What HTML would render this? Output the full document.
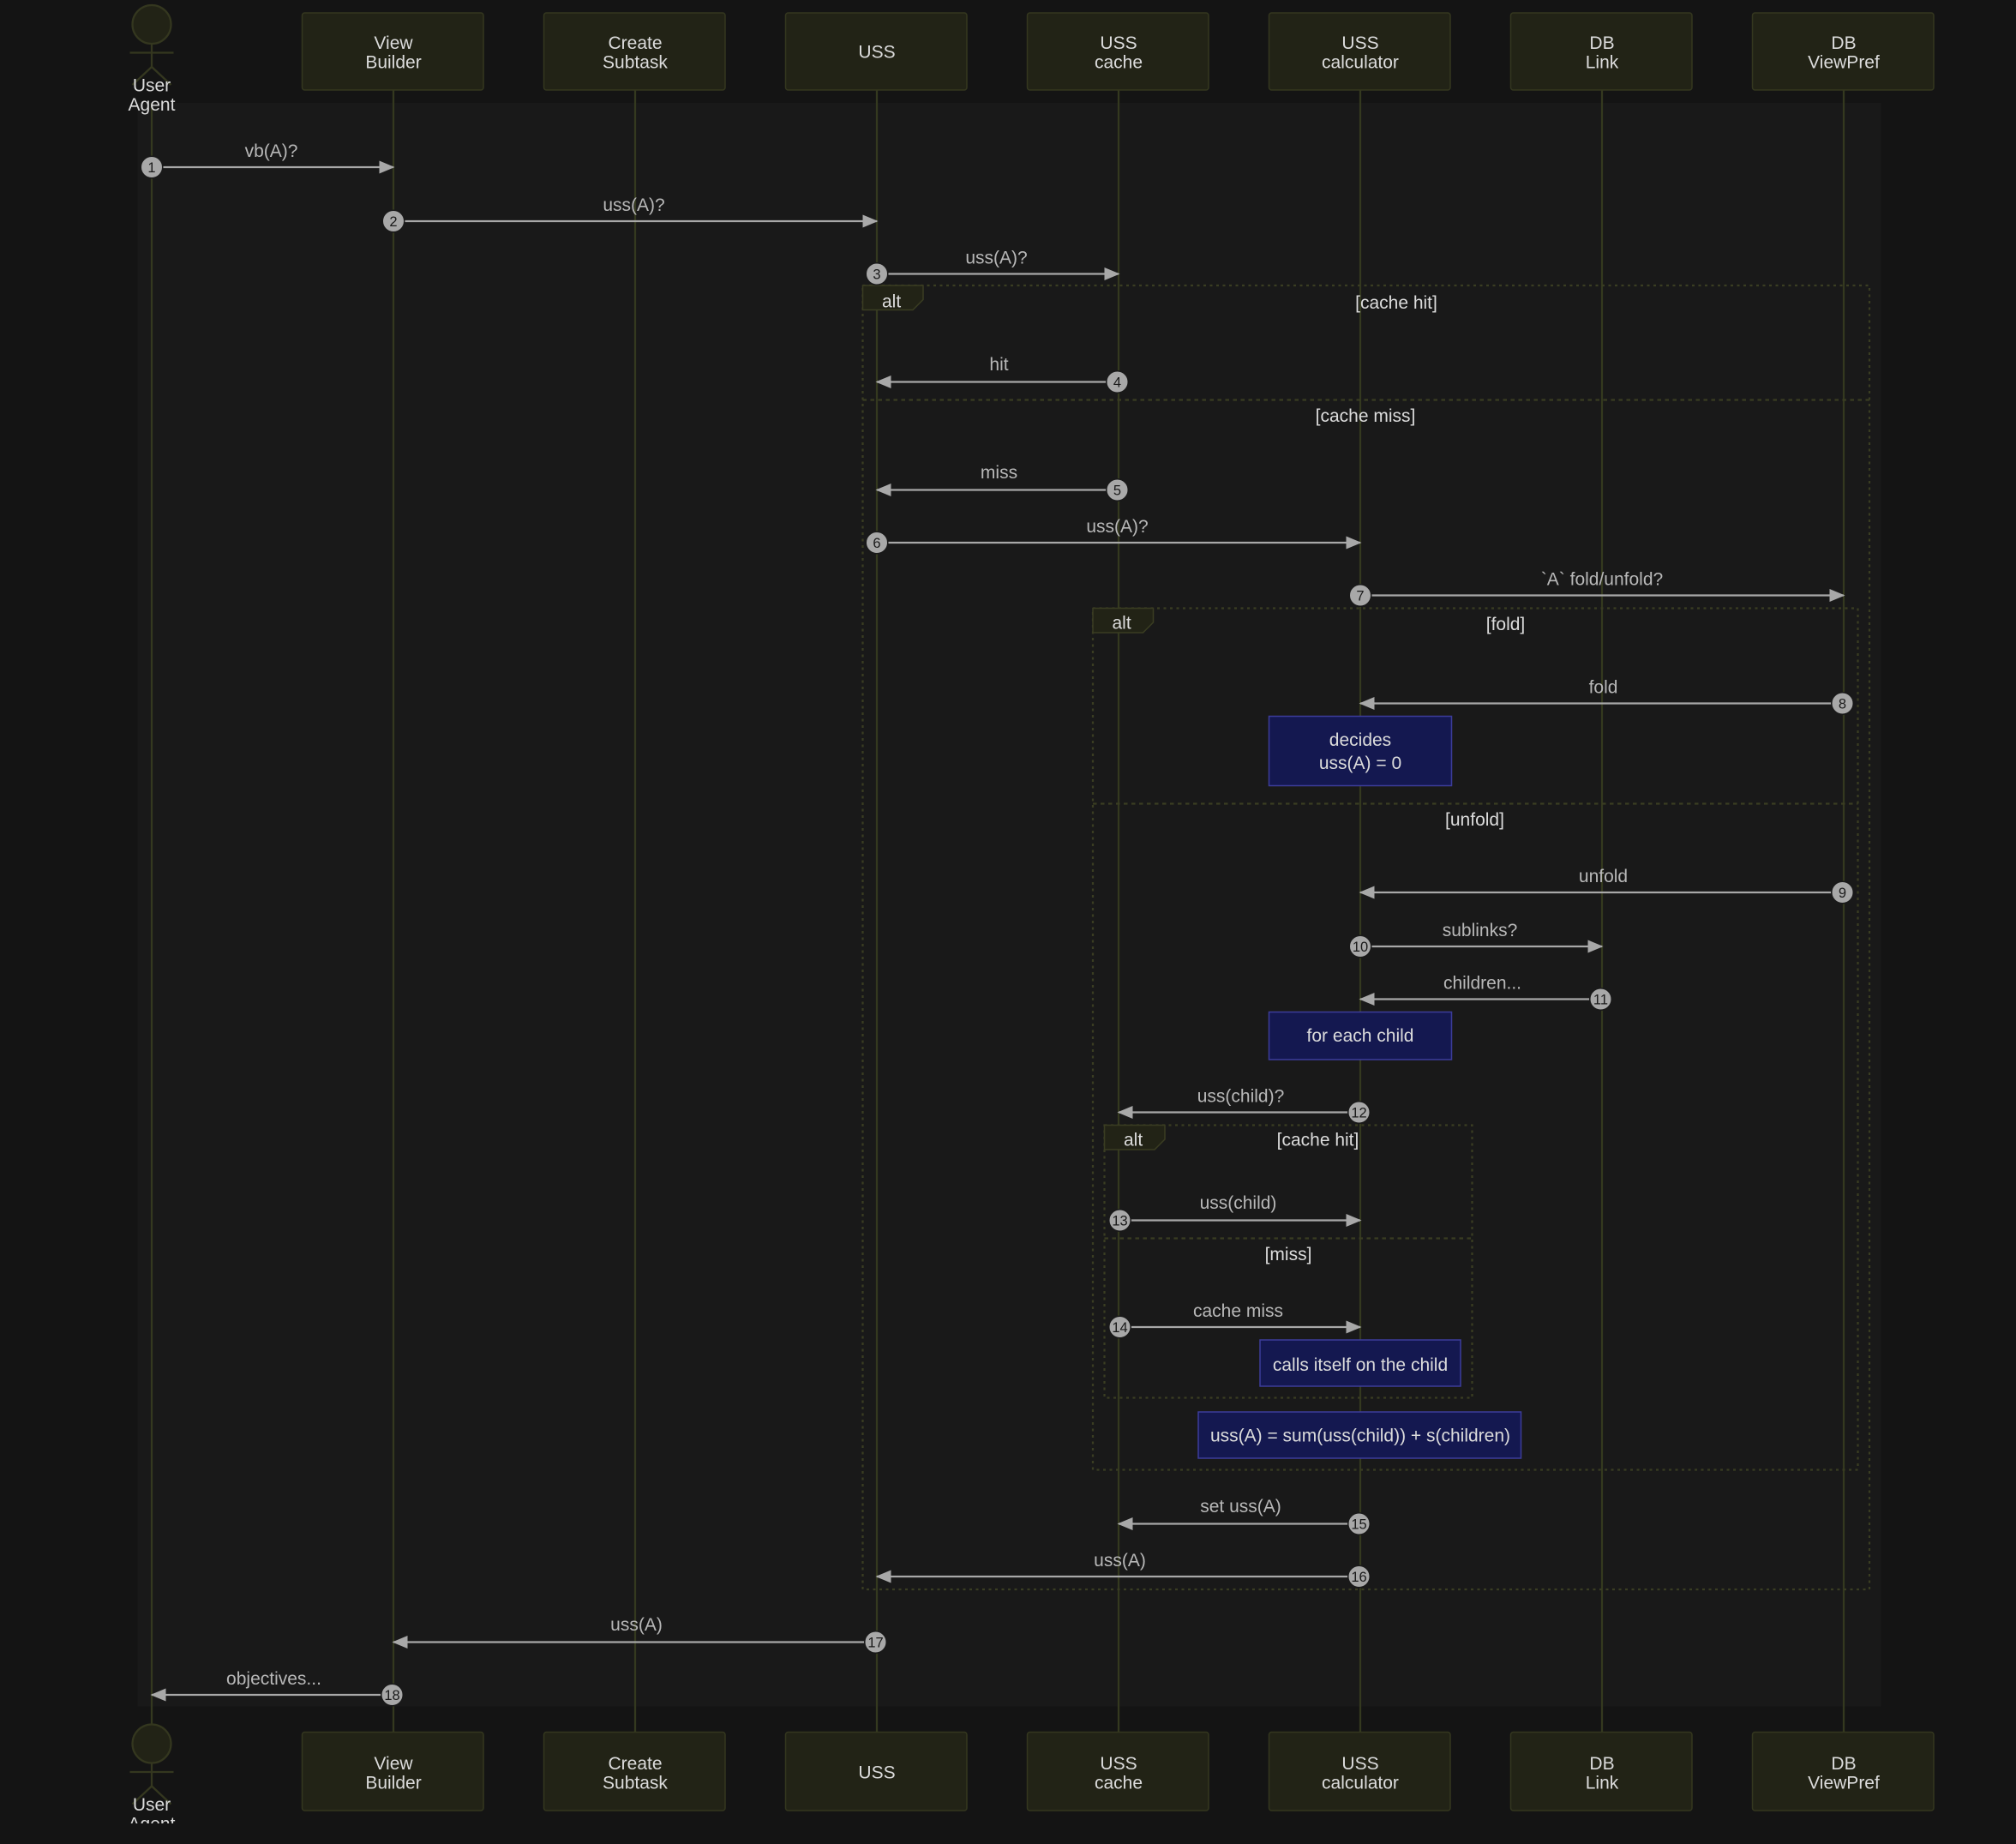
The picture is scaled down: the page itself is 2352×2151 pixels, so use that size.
<!DOCTYPE html>
<html><head><meta charset="utf-8"><style>
html,body{margin:0;padding:0;background:#141414;}
svg{display:block;}
text{font-family:"Liberation Sans","DejaVu Sans",sans-serif;}
.p{fill:#222316;stroke:#34371f;stroke-width:1;}
.pt{fill:#dcdcdc;font-size:14px;text-anchor:middle;}
.ll{stroke:#34391f;stroke-width:1.5;}
.m{stroke:#a8a8a8;stroke-width:1.5;fill:none;}
.ml{fill:#b8b8b8;font-size:14px;text-anchor:middle;}
.nc{fill:#a8a8a8;stroke:#191919;stroke-width:1;}
.nt{fill:#1a1a1a;font-size:11px;text-anchor:middle;}
.fr{fill:none;stroke:#3a3d22;stroke-width:1.5;stroke-dasharray:2,3;}
.fl{fill:#222316;stroke:#3a3d22;stroke-width:1;}
.ft{fill:#dcdcdc;font-size:14px;}
.ct{fill:#dcdcdc;font-size:14px;text-anchor:middle;}
.n{fill:#141850;stroke:#3c3c9a;stroke-width:1;}
.nx{fill:#dcdcdc;font-size:14px;text-anchor:middle;}
</style></head><body>
<svg width="2352" height="2151" viewBox="0 0 1568 1434" xmlns="http://www.w3.org/2000/svg">
<defs>
<marker id="a" markerWidth="12" markerHeight="10" refX="11" refY="5" orient="auto" markerUnits="userSpaceOnUse"><path d="M0,0 L12,5 L0,10 z" fill="#a8a8a8"/></marker>
</defs>
<rect x="0" y="0" width="1568" height="1434" fill="#141414"/>
<rect x="107" y="80" width="1356" height="1247" fill="#191919"/>

<g class="ll">
<line x1="118" y1="80" x2="118" y2="1347"/>
<line x1="306" y1="70" x2="306" y2="1347"/>
<line x1="494" y1="70" x2="494" y2="1347"/>
<line x1="682" y1="70" x2="682" y2="1347"/>
<line x1="870" y1="70" x2="870" y2="1347"/>
<line x1="1058" y1="70" x2="1058" y2="1347"/>
<line x1="1246" y1="70" x2="1246" y2="1347"/>
<line x1="1434" y1="70" x2="1434" y2="1347"/>
</g>

<g>
<circle cx="118" cy="19" r="15" fill="#222316" stroke="#34371f" stroke-width="1.5"/>
<line x1="118" y1="34" x2="118" y2="52" stroke="#34371f" stroke-width="1.5"/>
<line x1="101" y1="41" x2="135" y2="41" stroke="#34371f" stroke-width="1.5"/>
<line x1="118" y1="52" x2="103" y2="66" stroke="#34371f" stroke-width="1.5"/>
<line x1="118" y1="52" x2="133" y2="66" stroke="#34371f" stroke-width="1.5"/>
<text class="pt" x="118" y="71">User</text><text class="pt" x="118" y="86">Agent</text>
<rect class="p" x="235" y="10" width="141" height="60" rx="2"/><text class="pt" x="306" y="38">View</text><text class="pt" x="306" y="53">Builder</text>
<rect class="p" x="423" y="10" width="141" height="60" rx="2"/><text class="pt" x="494" y="38">Create</text><text class="pt" x="494" y="53">Subtask</text>
<rect class="p" x="611" y="10" width="141" height="60" rx="2"/><text class="pt" x="682" y="45">USS</text>
<rect class="p" x="799" y="10" width="141" height="60" rx="2"/><text class="pt" x="870" y="38">USS</text><text class="pt" x="870" y="53">cache</text>
<rect class="p" x="987" y="10" width="141" height="60" rx="2"/><text class="pt" x="1058" y="38">USS</text><text class="pt" x="1058" y="53">calculator</text>
<rect class="p" x="1175" y="10" width="141" height="60" rx="2"/><text class="pt" x="1246" y="38">DB</text><text class="pt" x="1246" y="53">Link</text>
<rect class="p" x="1363" y="10" width="141" height="60" rx="2"/><text class="pt" x="1434" y="38">DB</text><text class="pt" x="1434" y="53">ViewPref</text>
</g>

<g>
<circle cx="118" cy="1356" r="15" fill="#222316" stroke="#34371f" stroke-width="1.5"/>
<line x1="118" y1="1371" x2="118" y2="1389" stroke="#34371f" stroke-width="1.5"/>
<line x1="101" y1="1378" x2="135" y2="1378" stroke="#34371f" stroke-width="1.5"/>
<line x1="118" y1="1389" x2="103" y2="1403" stroke="#34371f" stroke-width="1.5"/>
<line x1="118" y1="1389" x2="133" y2="1403" stroke="#34371f" stroke-width="1.5"/>
<text class="pt" x="118" y="1408">User</text><text class="pt" x="118" y="1423">Agent</text>
<rect x="0" y="1418" width="300" height="16" fill="#141414"/>
<rect class="p" x="235" y="1347" width="141" height="61" rx="2"/><text class="pt" x="306" y="1376">View</text><text class="pt" x="306" y="1391">Builder</text>
<rect class="p" x="423" y="1347" width="141" height="61" rx="2"/><text class="pt" x="494" y="1376">Create</text><text class="pt" x="494" y="1391">Subtask</text>
<rect class="p" x="611" y="1347" width="141" height="61" rx="2"/><text class="pt" x="682" y="1383">USS</text>
<rect class="p" x="799" y="1347" width="141" height="61" rx="2"/><text class="pt" x="870" y="1376">USS</text><text class="pt" x="870" y="1391">cache</text>
<rect class="p" x="987" y="1347" width="141" height="61" rx="2"/><text class="pt" x="1058" y="1376">USS</text><text class="pt" x="1058" y="1391">calculator</text>
<rect class="p" x="1175" y="1347" width="141" height="61" rx="2"/><text class="pt" x="1246" y="1376">DB</text><text class="pt" x="1246" y="1391">Link</text>
<rect class="p" x="1363" y="1347" width="141" height="61" rx="2"/><text class="pt" x="1434" y="1376">DB</text><text class="pt" x="1434" y="1391">ViewPref</text>
</g>

<rect class="fr" x="671" y="222" width="783" height="1014"/>
<line class="fr" x1="671" y1="311" x2="1454" y2="311" style="stroke-dasharray:3,3"/>
<path class="fl" d="M671,222 H718 V233 L710,241 H671 Z"/>
<text class="ft" x="686" y="239">alt</text>
<text class="ct" x="1086" y="240">[cache hit]</text>
<text class="ct" x="1062" y="328">[cache miss]</text>

<rect class="fr" x="850" y="473" width="595" height="670"/>
<line class="fr" x1="850" y1="625" x2="1445" y2="625" style="stroke-dasharray:3,3"/>
<path class="fl" d="M850,473 H897 V484 L889,492 H850 Z"/>
<text class="ft" x="865" y="489">alt</text>
<text class="ct" x="1171" y="490">[fold]</text>
<text class="ct" x="1147" y="642">[unfold]</text>

<rect class="fr" x="859" y="875" width="286" height="212"/>
<line class="fr" x1="859" y1="963" x2="1145" y2="963" style="stroke-dasharray:3,3"/>
<path class="fl" d="M859,875 H906 V886 L898,894 H859 Z"/>
<text class="ft" x="874" y="891">alt</text>
<text class="ct" x="1025" y="891">[cache hit]</text>
<text class="ct" x="1002" y="980">[miss]</text>

<rect class="n" x="987" y="557" width="142" height="54"/>
<text class="nx" x="1058" y="580">decides</text><text class="nx" x="1058" y="598">uss(A) = 0</text>
<rect class="n" x="987" y="787" width="142" height="37"/>
<text class="nx" x="1058" y="810">for each child</text>
<rect class="n" x="980" y="1042" width="156" height="36"/>
<text class="nx" x="1058" y="1066">calls itself on the child</text>
<rect class="n" x="932" y="1098" width="251" height="36"/>
<text class="nx" x="1058" y="1121">uss(A) = sum(uss(child)) + s(children)</text>

<g>
<line class="m" x1="118" y1="130" x2="306" y2="130" marker-end="url(#a)"/><text class="ml" x="211" y="122">vb(A)?</text>
<line class="m" x1="306" y1="172" x2="682" y2="172" marker-end="url(#a)"/><text class="ml" x="493" y="164">uss(A)?</text>
<line class="m" x1="682" y1="213" x2="870" y2="213" marker-end="url(#a)"/><text class="ml" x="775" y="205">uss(A)?</text>
<line class="m" x1="870" y1="297" x2="682" y2="297" marker-end="url(#a)"/><text class="ml" x="777" y="288">hit</text>
<line class="m" x1="870" y1="381" x2="682" y2="381" marker-end="url(#a)"/><text class="ml" x="777" y="372">miss</text>
<line class="m" x1="682" y1="422" x2="1058" y2="422" marker-end="url(#a)"/><text class="ml" x="869" y="414">uss(A)?</text>
<line class="m" x1="1058" y1="463" x2="1434" y2="463" marker-end="url(#a)"/><text class="ml" x="1246" y="455">`A` fold/unfold?</text>
<line class="m" x1="1434" y1="547" x2="1058" y2="547" marker-end="url(#a)"/><text class="ml" x="1247" y="539">fold</text>
<line class="m" x1="1434" y1="694" x2="1058" y2="694" marker-end="url(#a)"/><text class="ml" x="1247" y="686">unfold</text>
<line class="m" x1="1058" y1="736" x2="1246" y2="736" marker-end="url(#a)"/><text class="ml" x="1151" y="728">sublinks?</text>
<line class="m" x1="1246" y1="777" x2="1058" y2="777" marker-end="url(#a)"/><text class="ml" x="1153" y="769">children...</text>
<line class="m" x1="1058" y1="865" x2="870" y2="865" marker-end="url(#a)"/><text class="ml" x="965" y="857">uss(child)?</text>
<line class="m" x1="870" y1="949" x2="1058" y2="949" marker-end="url(#a)"/><text class="ml" x="963" y="940">uss(child)</text>
<line class="m" x1="870" y1="1032" x2="1058" y2="1032" marker-end="url(#a)"/><text class="ml" x="963" y="1024">cache miss</text>
<line class="m" x1="1058" y1="1185" x2="870" y2="1185" marker-end="url(#a)"/><text class="ml" x="965" y="1176">set uss(A)</text>
<line class="m" x1="1058" y1="1226" x2="682" y2="1226" marker-end="url(#a)"/><text class="ml" x="871" y="1218">uss(A)</text>
<line class="m" x1="682" y1="1277" x2="306" y2="1277" marker-end="url(#a)"/><text class="ml" x="495" y="1268">uss(A)</text>
<line class="m" x1="306" y1="1318" x2="118" y2="1318" marker-end="url(#a)"/><text class="ml" x="213" y="1310">objectives...</text>
</g>

<g>
<circle class="nc" cx="118" cy="130" r="8.5"/><text class="nt" x="118" y="134">1</text>
<circle class="nc" cx="306" cy="172" r="8.5"/><text class="nt" x="306" y="176">2</text>
<circle class="nc" cx="682" cy="213" r="8.5"/><text class="nt" x="682" y="217">3</text>
<circle class="nc" cx="869" cy="297" r="8.5"/><text class="nt" x="869" y="301">4</text>
<circle class="nc" cx="869" cy="381" r="8.5"/><text class="nt" x="869" y="385">5</text>
<circle class="nc" cx="682" cy="422" r="8.5"/><text class="nt" x="682" y="426">6</text>
<circle class="nc" cx="1058" cy="463" r="8.5"/><text class="nt" x="1058" y="467">7</text>
<circle class="nc" cx="1433" cy="547" r="8.5"/><text class="nt" x="1433" y="551">8</text>
<circle class="nc" cx="1433" cy="694" r="8.5"/><text class="nt" x="1433" y="698">9</text>
<circle class="nc" cx="1058" cy="736" r="8.5"/><text class="nt" x="1058" y="740">10</text>
<circle class="nc" cx="1245" cy="777" r="8.5"/><text class="nt" x="1245" y="781">11</text>
<circle class="nc" cx="1057" cy="865" r="8.5"/><text class="nt" x="1057" y="869">12</text>
<circle class="nc" cx="871" cy="949" r="8.5"/><text class="nt" x="871" y="953">13</text>
<circle class="nc" cx="871" cy="1032" r="8.5"/><text class="nt" x="871" y="1036">14</text>
<circle class="nc" cx="1057" cy="1185" r="8.5"/><text class="nt" x="1057" y="1189">15</text>
<circle class="nc" cx="1057" cy="1226" r="8.5"/><text class="nt" x="1057" y="1230">16</text>
<circle class="nc" cx="681" cy="1277" r="8.5"/><text class="nt" x="681" y="1281">17</text>
<circle class="nc" cx="305" cy="1318" r="8.5"/><text class="nt" x="305" y="1322">18</text>
</g>
</svg>
</body></html>
